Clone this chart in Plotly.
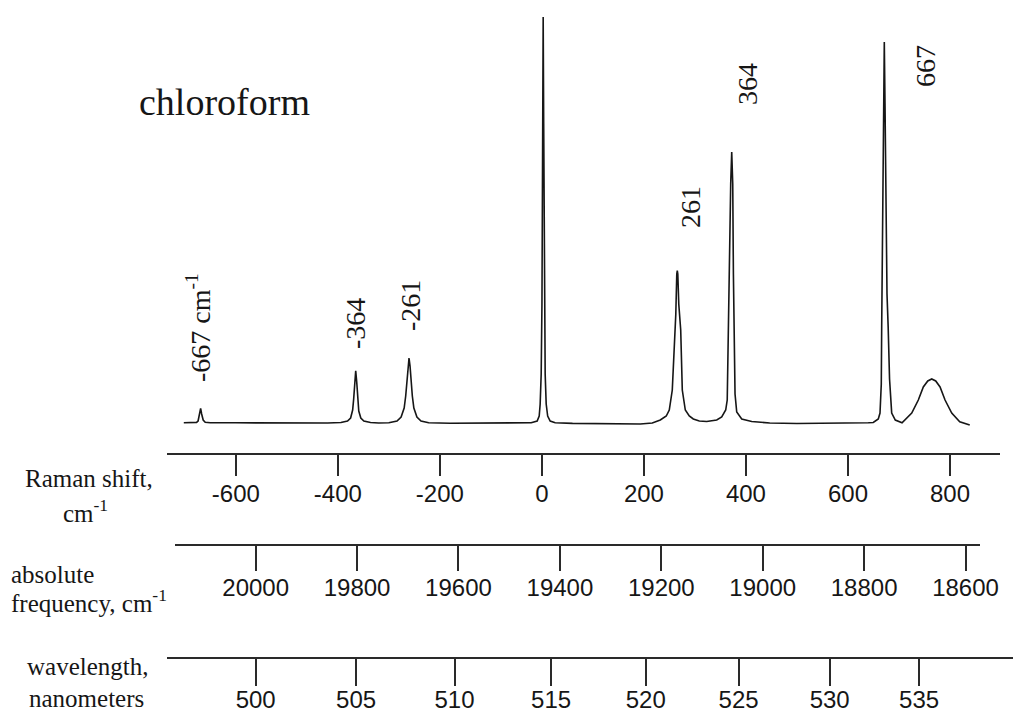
import plotly.graph_objects as go

W, H = 1013, 713

# ---------------- data ----------------
# Raman shift (cm-1) and intensity (arbitrary units) of the traced spectrum
shift = [
    -702, -689, -677, -674, -671, -669, -667, -664, -660, -650,
    -600, -540, -480, -420,
    -394, -381, -375, -371, -369, -367, -365, -363, -361, -359, -355, -349, -336,
    -320,
    -300, -284, -276, -270, -267, -264, -262.5, -260.5, -258.5, -257, -254, -251, -245, -237, -222,
    -180, -120, -60, -30,
    -21, -9.3, -5.3, -3.4, -1.4, 0.1, 1.5, 2.5, 3.5, 4.9, 6.4, 8.4, 11.3, 16.2, 26,
    60, 120, 170,
    192.9, 216.4, 232.1, 243.8, 249.7, 255.6, 259.5, 262.5, 264.4, 265.4, 266.4, 268.3, 272.1, 275.2,
    281.1, 288.9, 296.8, 308.5,
    323.1, 342.7, 352.5, 360.3, 363.3, 364.3, 366.2, 368.2, 370.1, 372.1, 374.1, 375.4, 377, 378.6,
    381.9, 391.7, 411.3, 446.6,
    500, 560, 620, 640,
    649.6, 659.4, 662.8, 665.3, 666.1, 668.3, 669.8, 671.2, 672.6, 674.1, 676.5, 678.8, 681.5, 685.7, 692.8,
    706,
    725, 737.9, 747.7, 756.4, 764.2, 772, 780.5, 790.3, 803.4, 819.1, 838.7,
]
intensity = [
    1.3, 1.3, 1.6, 3, 9, 15.7, 10, 4, 1.8, 1.3,
    1.2, 1.0, 1.1, 1.0,
    1.5, 3, 6, 14, 25, 42, 53.3, 42, 25, 13, 6, 3, 1.5,
    1.0,
    1.2, 3, 7, 16, 28, 45, 58, 66, 58, 45, 28, 16, 7, 3, 1.2,
    0.8, 0.8, 0.8, 1.0,
    1.2, 3, 8, 20, 50, 120, 300, 407, 300, 120, 50, 20, 8, 3, 1.2,
    0.6, 0.4, 0.5,
    0, 1, 4, 8, 14, 34, 74, 110, 150, 153.3, 150, 120, 94, 34,
    14, 8, 5, 3,
    2.5, 4, 7, 14, 24, 60, 111, 170, 240, 272, 240, 150, 90, 30,
    12, 5, 2.5, 1,
    0.5, 0.5, 1, 1.2,
    1.5, 5, 11, 40, 97, 200, 320, 382, 320, 220, 130, 97, 45, 11, 4,
    1.3,
    11, 24, 37, 43, 45, 43, 37, 24, 11, 2.3, -1,
]

raman_ticks = [-600, -400, -200, 0, 200, 400, 600, 800]
abs_ticks = [20000, 19800, 19600, 19400, 19200, 19000, 18800, 18600]
wl_ticks = [500, 505, 510, 515, 520, 525, 530, 535]

peak_texts = ["-667 cm<sup>-1</sup>", "-364", "-261", "261", "364", "667"]
title_text = "chloroform"

# ---------------- layout helpers ----------------
def fx(px):
    return px / W

def fy(py):
    return 1 - py / H

INK = "#161616"
SERIF = "Liberation Serif, Times New Roman, serif"
SANS = "Liberation Sans, Arial, sans-serif"

fig = go.Figure()
fig.add_trace(go.Scatter(x=shift, y=intensity, mode="lines",
                         line=dict(color=INK, width=1.6), hoverinfo="skip",
                         showlegend=False))
# empty traces so the three scale axes get drawn
for ax in ["x2", "x3", "x4"]:
    fig.add_trace(go.Scatter(x=[], y=[], xaxis=ax, yaxis="y", showlegend=False))

axis_common = dict(showgrid=False, zeroline=False, showline=True, linecolor="#2a2a2a",
                   linewidth=1.8, ticks="outside", tickcolor="#2a2a2a", tickwidth=1.6,
                   tickfont=dict(family=SANS, size=24, color=INK), anchor="free",
                   automargin=False, fixedrange=True)

fig.update_layout(
    width=W, height=H,
    margin=dict(l=0, r=0, t=0, b=0, pad=0, autoexpand=False),
    paper_bgcolor="white", plot_bgcolor="rgba(0,0,0,0)",
    showlegend=False,
    xaxis=dict(domain=[0, 1], range=[-1062.3, 923.5], visible=False, fixedrange=True),
    yaxis=dict(domain=[0, 1], range=[-289, 424], visible=False, fixedrange=True),
    xaxis2=dict(axis_common, domain=[fx(167), fx(1000)], range=[-735.0, 898.1],
                position=fy(454), ticklen=21,
                tickvals=raman_ticks, ticktext=[str(v) for v in raman_ticks],
                ticklabelstandoff=-3),
    xaxis3=dict(axis_common, domain=[fx(175), fx(980)], range=[20159.1, 18571.5],
                position=fy(545), ticklen=25,
                tickvals=abs_ticks, ticktext=[str(v) for v in abs_ticks],
                ticklabelstandoff=-4),
    xaxis4=dict(axis_common, domain=[fx(167), 1], range=[20174.9, 18506.4],
                position=fy(658), ticklen=27,
                tickvals=[1e7 / v for v in wl_ticks], ticktext=[str(v) for v in wl_ticks],
                ticklabelstandoff=-7),
)

# ---------------- text ----------------
def note(text, x, y, size, xanchor="center", angle=0, family=SERIF):
    fig.add_annotation(text=text, x=fx(x), y=fy(y), xref="paper", yref="paper",
                       showarrow=False, xanchor=xanchor, yanchor="middle",
                       textangle=angle, font=dict(family=family, size=size, color=INK))

note(title_text, 224, 102, 38)

# peak labels (rotated)
peak_pos = [(198, 328), (355, 324), (410, 306), (691, 207), (747, 84), (925, 66)]
for t, (px, py) in zip(peak_texts, peak_pos):
    note(t, px, py, 28, angle=-90)

# scale captions at left
note("Raman shift,", 89, 479, 25)
note("cm<sup>-1</sup>", 85, 511, 25)
note("absolute", 9, 574, 25, xanchor="left")
note("frequency, cm<sup>-1</sup>", 9, 601, 25, xanchor="left")
note("wavelength,", 87, 666, 25)
note("nanometers", 86, 698, 25)

fig.write_html(
    "out.html",
    config={"displayModeBar": False},
    post_script="document.body.style.margin='0';document.body.style.overflow='hidden';",
)
